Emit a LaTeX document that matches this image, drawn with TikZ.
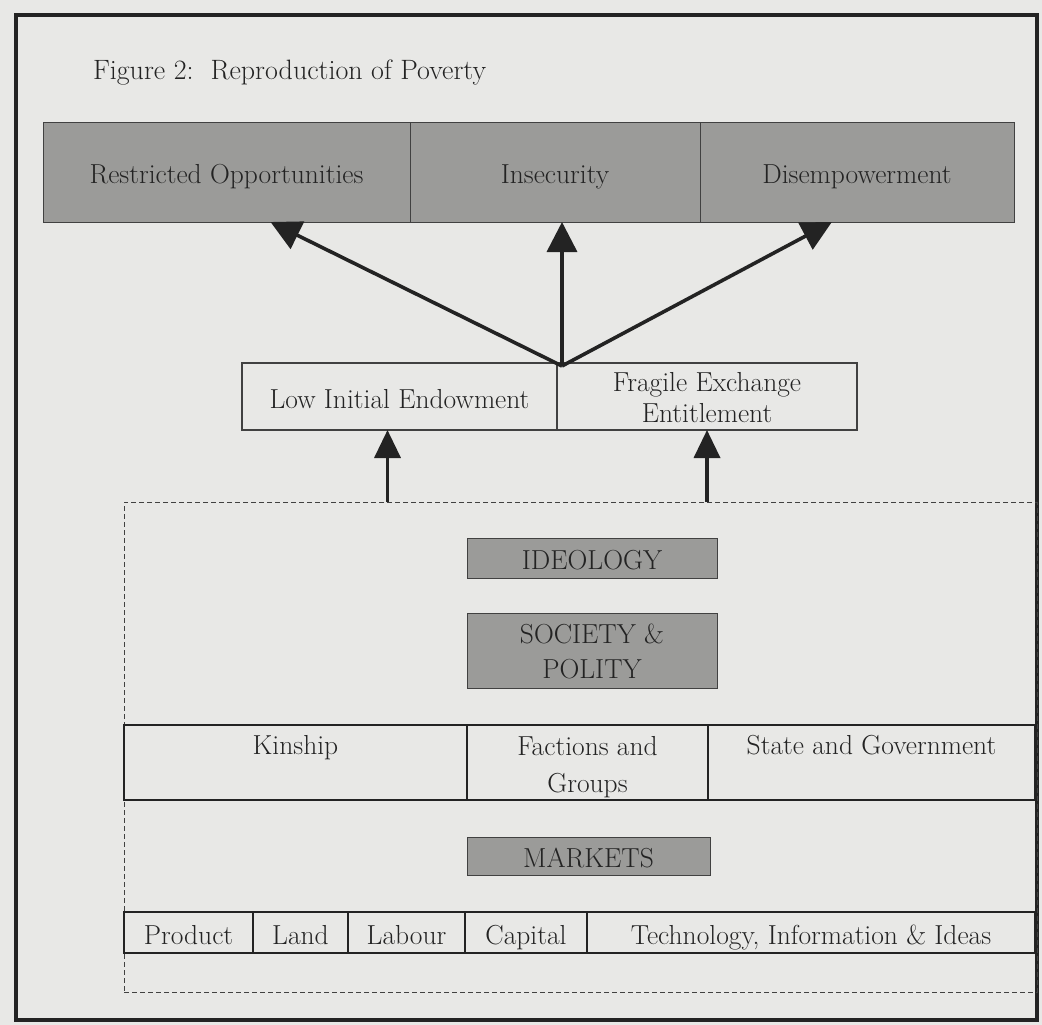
\documentclass[tikz,border=0pt]{standalone}
\usetikzlibrary{arrows.meta,calc}
\definecolor{paper}{RGB}{232,232,230}
\definecolor{shade}{RGB}{155,155,153}
\definecolor{ink}{RGB}{35,35,35}
\definecolor{edge}{RGB}{65,65,65}
\begin{document}
\begin{tikzpicture}[x=1pt,y=-1pt,
  every node/.style={inner sep=0pt,outer sep=0pt,align=center,text=ink,
    font=\fontsize{27.5}{35}\selectfont},
  oneline/.style={text height=23pt,text depth=0pt},
  frame/.style={draw=ink,line width=4.5pt},
  titletext/.style={font=\fontsize{28}{32}\selectfont},
  shadebox/.style={draw=edge,line width=1pt,fill=shade},
  plainbox/.style={draw=edge,line width=1.2pt},
  rowbox/.style={draw=ink,line width=2.6pt},
  zone/.style={draw=edge,line width=1pt,dash pattern=on 5pt off 3pt},
  arr/.style={draw=ink,line width=3.6pt,-{Triangle[length=30pt,width=30pt]}},
  uparr/.style={draw=ink,line width=3.6pt,-{Triangle[length=28pt,width=26pt]}}
]
% page and outer frame
\fill[paper] (0,0) rectangle (1042,1025);
\draw[frame] (16,15) rectangle (1037,1020);

\node[titletext,anchor=base west] (title) at (93,80) {Figure 2:\ \ Reproduction of Poverty};

% outcomes
\node[shadebox,oneline,minimum width=367pt,minimum height=100pt] (ro)  at (226.5,172) {Restricted Opportunities};
\node[shadebox,oneline,minimum width=290pt,minimum height=100pt] (ins) at (555,172)   {Insecurity};
\node[shadebox,oneline,minimum width=314pt,minimum height=100pt] (dis) at (857,172)   {Disempowerment};

% entitlements
\node[plainbox,oneline,minimum width=315pt,minimum height=67pt] (low)  at (399.5,396.5) {Low Initial Endowment};
\node[plainbox,minimum width=300pt,minimum height=67pt,font=\fontsize{27.5}{31}\selectfont] (frag) at (707,396.5) {\rule{0pt}{22pt}Fragile Exchange\\Entitlement};

% institutional context
\node[zone,minimum width=913pt,minimum height=490pt] (ctx) at (580.5,747) {};

\node[shadebox,oneline,minimum width=250pt,minimum height=40pt] (ideo) at (592,558) {IDEOLOGY};
\node[shadebox,minimum width=250pt,minimum height=75pt] (soc)  at (592,650.5) {\rule{0pt}{22pt}SOCIETY \&\\POLITY};

\node[rowbox,minimum width=343pt,minimum height=75pt] (kin)   at (295.5,762.5) {Kinship\\\mbox{}};
\node[rowbox,minimum width=241pt,minimum height=75pt,font=\fontsize{27.5}{37}\selectfont] (fac) at (587.5,762.5) {\rule{0pt}{28pt}Factions and\\Groups};
\node[rowbox,minimum width=327pt,minimum height=75pt] (state) at (871.5,762.5) {State and Government\\\mbox{}};

\node[shadebox,oneline,minimum width=243pt,minimum height=38pt] (mkt) at (588.5,856) {MARKETS};

\node[rowbox,oneline,minimum width=129pt,minimum height=41pt] (prod) at (188.5,932.5) {Product};
\node[rowbox,oneline,minimum width=95pt, minimum height=41pt] (land) at (300.5,932.5) {Land};
\node[rowbox,oneline,minimum width=117pt,minimum height=41pt] (lab)  at (406.5,932.5) {Labour};
\node[rowbox,oneline,minimum width=122pt,minimum height=41pt] (cap)  at (526,932.5)   {Capital};
\node[rowbox,oneline,minimum width=448pt,minimum height=41pt] (tech) at (811,932.5)   {Technology, Information \& Ideas};

% connectors
\coordinate (hub) at ($(low.north east)+(5,3)$);
\draw[arr] (hub) -- ($(ro.south west)!0.62!(ro.south east)$);
\draw[arr] (hub) -- (hub |- ins.south);
\draw[arr] (hub) -- ($(dis.south west)!0.42!(dis.south east)$);

\draw[uparr] ([xshift=-12pt]low.south |- ctx.north) -- ([xshift=-12pt]low.south);
\draw[uparr] (frag.south |- ctx.north) -- (frag.south);
\end{tikzpicture}
\end{document}
